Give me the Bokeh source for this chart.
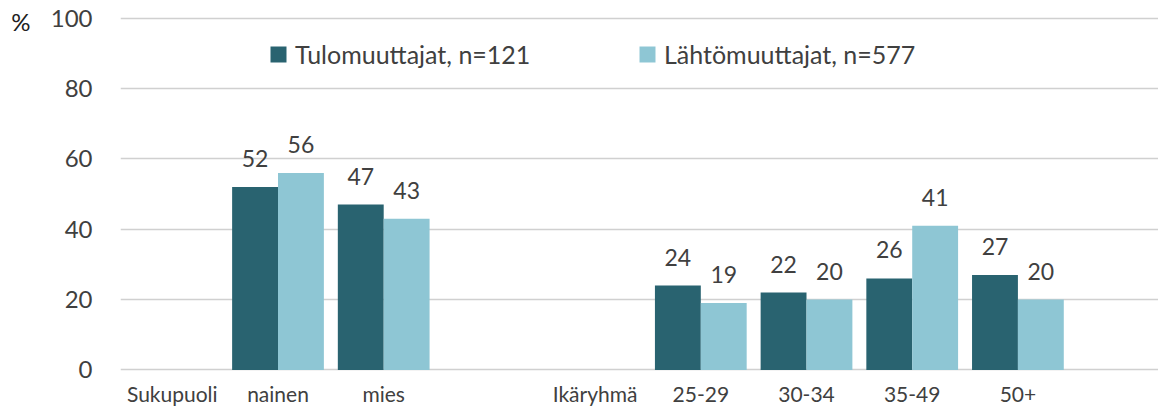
from bokeh.plotting import figure
from bokeh.models import ColumnDataSource, FixedTicker, Legend, LegendItem, LinearAxis, LabelSet
from bokeh.core.properties import value
from bokeh.embed import file_html
from bokeh.resources import INLINE

# ---- data ----
categories = ["Sukupuoli", "nainen", "mies", "", "Ikäryhmä", "25-29", "30-34", "35-49", "50+"]
tulo = [None, 52, 47, None, None, 24, 22, 26, 27]
lahto = [None, 56, 43, None, None, 19, 20, 41, 20]
series_names = ["Tulomuuttajat, n=121", "Lähtömuuttajat, n=577"]
y_ticks = [0, 20, 40, 60, 80, 100]
unit_label = "%"
unit_pos = 99

DARK = "#296370"
LIGHT = "#8EC6D4"
TEXT = "#404040"
FONT = "Lato"
BW = 0.434

def series_source(vals, shift):
    xs, ys, ts = [], [], []
    for i, v in enumerate(vals):
        if v is None:
            continue
        xs.append(i + shift)
        ys.append(v)
        ts.append(str(v))
    return ColumnDataSource(dict(x=xs, top=ys, label=ts))

src1 = series_source(tulo, -BW / 2)
src2 = series_source(lahto, BW / 2)

p = figure(width=1158, height=408, x_range=(-0.49, 9.33), y_range=(-1, 101),
           output_backend="svg", toolbar_location=None,
           min_border_left=120, min_border_right=0, min_border_top=14, min_border_bottom=35)
p.outline_line_color = None
p.background_fill_color = "white"
p.border_fill_color = "white"

r1 = p.vbar(x="x", top="top", bottom=0, width=BW, source=src1, fill_color=DARK, line_color=None)
r2 = p.vbar(x="x", top="top", bottom=0, width=BW, source=src2, fill_color=LIGHT, line_color=None)

for src in (src1, src2):
    ls = LabelSet(x="x", y="top", text="label", source=src, y_offset=20,
                  text_align="center", text_baseline="alphabetic",
                  text_font=value(FONT), text_font_size=value("23px"), text_color=TEXT)
    p.add_layout(ls)

# axes
p.xgrid.grid_line_color = None
p.ygrid.ticker = FixedTicker(ticks=y_ticks)
p.ygrid.grid_line_color = "#D0D0D0"
p.ygrid.grid_line_width = 1.5

p.yaxis.ticker = FixedTicker(ticks=y_ticks)
p.yaxis.axis_line_color = None
p.yaxis.major_tick_line_color = None
p.yaxis.minor_tick_line_color = None
p.yaxis.major_tick_out = 0
p.yaxis.major_tick_in = 0
p.yaxis.major_label_standoff = 28
p.yaxis.major_label_text_font = FONT
p.yaxis.major_label_text_font_size = "24px"
p.yaxis.major_label_text_color = TEXT

# unit "%" as an outer left axis with one tick
unit_axis = LinearAxis(ticker=FixedTicker(ticks=[unit_pos]),
                       major_label_overrides={unit_pos: unit_label},
                       axis_line_color=None, major_tick_line_color=None,
                       minor_tick_line_color=None, major_tick_out=0, major_tick_in=0,
                       minor_tick_out=0, minor_tick_in=0,
                       major_label_standoff=17, major_label_text_font=FONT,
                       major_label_text_font_size="24px", major_label_text_color="#202020")
p.add_layout(unit_axis, "left")

p.xaxis.ticker = FixedTicker(ticks=list(range(len(categories))))
p.xaxis.major_label_overrides = {i: c for i, c in enumerate(categories)}
p.xaxis.axis_line_color = None
p.xaxis.major_tick_line_color = None
p.xaxis.minor_tick_line_color = None
p.xaxis.major_tick_out = 0
p.xaxis.major_tick_in = 0
p.xaxis.major_label_standoff = 7
p.xaxis.major_label_text_font = FONT
p.xaxis.major_label_text_font_size = "21px"
p.xaxis.major_label_text_color = TEXT

# legends (one item each)
for r, name, lx in ((r1, series_names[0], 148), (r2, series_names[1], 517)):
    lg = Legend(items=[LegendItem(label=name, renderers=[r])], location=(lx, 304),
                orientation="horizontal", padding=0, margin=0, spacing=0,
                glyph_width=20, glyph_height=20, label_standoff=7,
                label_text_font=FONT, label_text_font_size="25px", label_text_color=TEXT,
                border_line_color=None, background_fill_alpha=0)
    p.add_layout(lg)

open("out.html", "w").write(file_html(p, INLINE))
